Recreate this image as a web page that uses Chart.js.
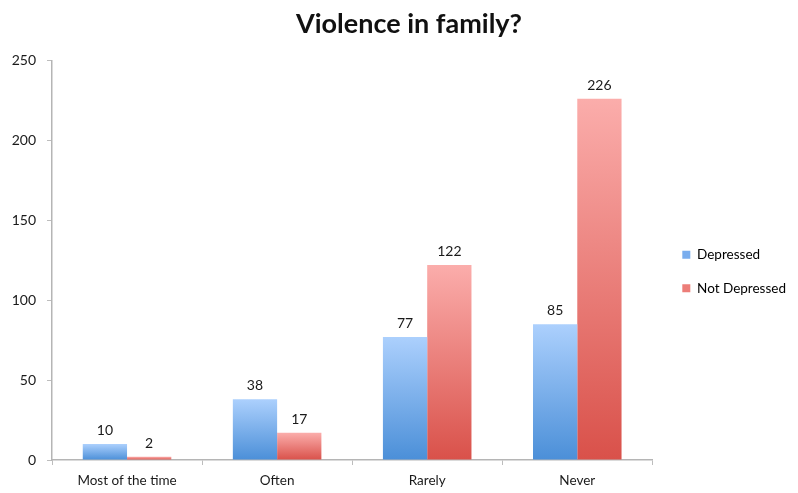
<!DOCTYPE html>
<html>
<head>
<meta charset="utf-8">
<script src="https://cdn.jsdelivr.net/npm/chart.js@4.4.1/dist/chart.umd.min.js"></script>
<style>
html,body{margin:0;padding:0;background:#fff;}
#wrap{width:798px;height:493px;position:relative;}
</style>
</head>
<body>
<div id="wrap"><canvas id="c" width="798" height="493"></canvas></div>
<script>
const categories = ["Most of the time", "Often", "Rarely", "Never"];
const depressed = [10, 38, 77, 85];
const notDepressed = [2, 17, 122, 226];
const seriesNames = ["Depressed", "Not Depressed"];
const yTicks = [0, 50, 100, 150, 200, 250];

const FONT = "Lato, 'Open Sans', sans-serif";
const palettes = [
  {top: "#acd0fd", bottom: "#4b8fd8", legend: "#79adee"},
  {top: "#fbadab", bottom: "#d9514a", legend: "#ec7d78"}
];

function gradFill(idx) {
  return function (ctx) {
    const chart = ctx.chart;
    const p = palettes[idx];
    if (!chart.chartArea || ctx.dataIndex === undefined) return p.legend;
    const y = chart.scales.y;
    const v = ctx.dataset.data[ctx.dataIndex];
    const top = y.getPixelForValue(v);
    const bottom = y.getPixelForValue(0);
    if (!isFinite(top) || !isFinite(bottom) || top === bottom) return p.bottom;
    const g = chart.ctx.createLinearGradient(0, top, 0, bottom);
    g.addColorStop(0, p.top);
    g.addColorStop(1, p.bottom);
    return g;
  };
}

const valueLabels = {
  id: "valueLabels",
  afterDatasetsDraw(chart) {
    const c = chart.ctx;
    c.save();
    c.font = "14px " + FONT;
    c.fillStyle = "#1a1a1a";
    c.textAlign = "center";
    c.textBaseline = "alphabetic";
    chart.data.datasets.forEach((ds, di) => {
      const meta = chart.getDatasetMeta(di);
      meta.data.forEach((bar, i) => {
        c.fillText(String(ds.data[i]), bar.x, bar.y - 9);
      });
    });
    c.restore();
  }
};

// nudge legend and title boxes after layout to match the reference placement
const nudge = {
  id: "nudge",
  afterLayout(chart) {
    const lg = chart.legend;
    if (lg) { lg.left += 10; lg.right += 10; lg.top += 24; lg.bottom += 24; }
    const t = chart.titleBlock;
    if (t) { t.left += 12; t.right += 12; }
  }
};

new Chart(document.getElementById("c"), {
  type: "bar",
  data: {
    labels: categories,
    datasets: [
      {label: seriesNames[0], data: depressed, backgroundColor: gradFill(0)},
      {label: seriesNames[1], data: notDepressed, backgroundColor: gradFill(1)}
    ]
  },
  options: {
    responsive: false,
    animation: false,
    devicePixelRatio: 1,
    layout: {padding: {left: 8, right: 12, top: 2, bottom: 0}},
    datasets: {bar: {categoryPercentage: 0.59, barPercentage: 1.0, borderWidth: 0}},
    plugins: {
      title: {
        display: true,
        text: "Violence in family?",
        color: "#111",
        font: {family: FONT, size: 27, weight: "bold"},
        padding: {top: 6, bottom: 20}
      },
      legend: {
        position: "right",
        labels: {
          font: {family: FONT, size: 13.5},
          color: "#1a1a1a",
          boxWidth: 8,
          boxHeight: 8,
          padding: 20,
          generateLabels(chart) {
            return chart.data.datasets.map((ds, i) => ({
              text: ds.label,
              fillStyle: palettes[i].legend,
              strokeStyle: palettes[i].legend,
              lineWidth: 0,
              datasetIndex: i
            }));
          }
        }
      },
      tooltip: {enabled: false}
    },
    scales: {
      x: {
        afterFit(axis) { axis.height = 33; },
        grid: {display: true, drawOnChartArea: false, drawTicks: true, tickLength: 5, color: "#bdbdbd", offset: true},
        border: {color: "#b5b5b5", width: 1.5},
        ticks: {font: {family: FONT, size: 13.5}, color: "#1a1a1a", padding: 8, maxRotation: 0}
      },
      y: {
        min: 0,
        max: 250,
        afterFit(axis) { axis.width = 44; },
        afterBuildTicks(axis) { axis.ticks = yTicks.map(v => ({value: v})); },
        grid: {display: true, drawOnChartArea: false, drawTicks: true, tickLength: 5, color: "#bdbdbd"},
        border: {color: "#b5b5b5", width: 1.5},
        ticks: {font: {family: FONT, size: 14}, color: "#1a1a1a", padding: 11}
      }
    }
  },
  plugins: [valueLabels, nudge]
});
</script>
</body>
</html>
